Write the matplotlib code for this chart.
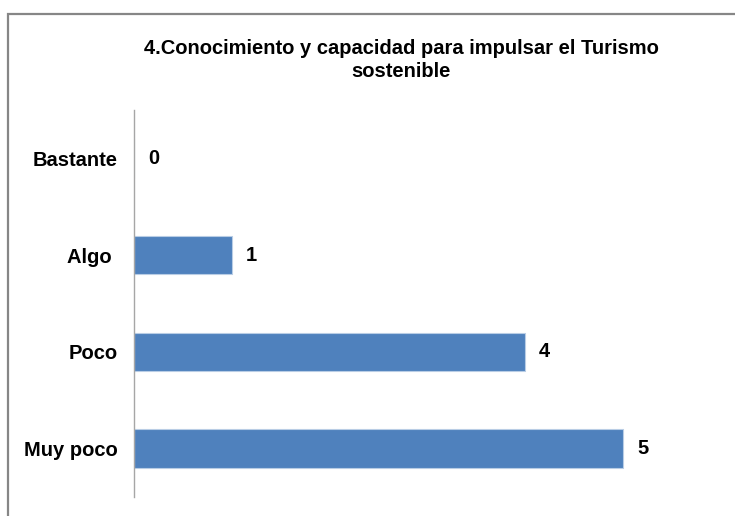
import matplotlib.pyplot as plt
from matplotlib.patches import Rectangle

# data
categorias = ['Muy poco', 'Poco', 'Algo ', 'Bastante']
valores = [5, 4, 1, 0]
titulo = '4.Conocimiento y capacidad para impulsar el Turismo\nsostenible'

plt.rcParams['font.family'] = ['Liberation Sans', 'DejaVu Sans']

W, H = 735, 516
fig = plt.figure(figsize=(W / 100, H / 100), dpi=100)

# outer chart border (only top/left/right visible)
fig.patches.append(Rectangle((8 / W, -0.1), 1.2, 1 - 14 / H + 0.1,
                             transform=fig.transFigure, fill=False,
                             edgecolor='#868686', linewidth=1.6))

ax = fig.add_axes([134 / W, 1 - 497 / H, (721 - 134) / W, (497 - 110) / H])
y = range(len(categorias))
bars = ax.barh(y, valores, height=0.4, color='#4F81BD', edgecolor='#B9CDE5', linewidth=0.8)

ax.set_xlim(0, 6)
ax.set_ylim(-0.5, 3.5)
ax.set_yticks(list(y))
ax.set_yticklabels(categorias, fontsize=14.5, fontweight='bold')
ax.tick_params(axis='y', length=0, pad=12)
ax.set_xticks([])
for s in ['top', 'right', 'bottom']:
    ax.spines[s].set_visible(False)
ax.spines['left'].set_color('#A6A6A6')
ax.spines['left'].set_linewidth(1.0)

for b, v in zip(bars, valores):
    ax.annotate(str(v), (v, b.get_y() + b.get_height() / 2), xytext=(10, 0),
                textcoords='offset points', va='center', ha='left',
                fontsize=14.5, fontweight='bold')

fig.text(401 / W, 1 - 60 / H, titulo, ha='center', va='center',
         fontsize=14.5, fontweight='bold', linespacing=1.25)

fig.savefig('out.png', dpi=100)
